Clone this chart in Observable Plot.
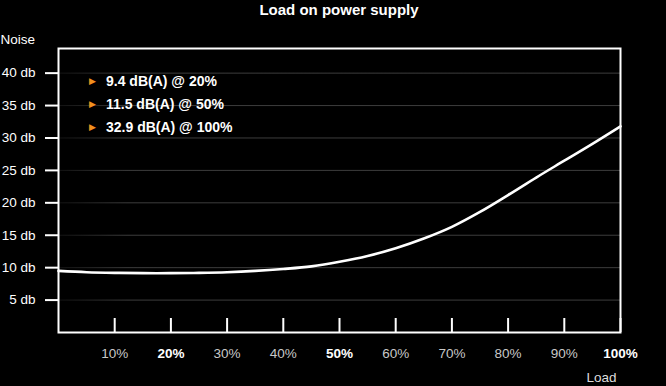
<!DOCTYPE html>
<html><head><meta charset="utf-8">
<script src="https://cdn.jsdelivr.net/npm/d3@7"></script>
<script src="https://cdn.jsdelivr.net/npm/@observablehq/plot@0.6"></script>
<style>
html,body{margin:0;padding:0;background:#000;}
#title{height:22px;line-height:11px;padding-top:1px;width:666px;text-align:center;color:#fff;font:bold 15px "Liberation Sans",Arial,sans-serif;padding-left:12px;box-sizing:border-box;}
</style></head><body>
<div id="title">Load on power supply</div>
<div id="chart"></div>
<script>
const loads = [0,5,10,15,20,25,30,35,40,45,50,55,60,65,70,75,80,85,90,95,100];
const noise = [9.5,9.3,9.2,9.15,9.15,9.2,9.3,9.5,9.8,10.2,10.9,11.8,13.0,14.5,16.3,18.6,21.2,23.9,26.5,29.1,31.8];
const yTicks = [5,10,15,20,25,30,35,40];
const xTicks = [10,20,30,40,50,60,70,80,90,100];
const boldTicks = [20,50,100];
const annotations = ["9.4 dB(A) @ 20%","11.5 dB(A) @ 50%","32.9 dB(A) @ 100%"];

const data = loads.map((l,i)=>({load:l, noise:noise[i]}));
const W=666, H=364, mT=26, mB=54, mL=58, mR=46;
const innerH = H - mT - mB;

function gridDefs(index, scales, values, dims) {
  const ns = "http://www.w3.org/2000/svg";
  const d = document.createElementNS(ns, "defs");
  d.innerHTML = `<linearGradient id="gridfade" gradientUnits="userSpaceOnUse" x1="${dims.marginLeft}" x2="${dims.marginLeft+70}" y1="0" y2="0"><stop offset="0" stop-color="#3c3c3c" stop-opacity="0.3"/><stop offset="1" stop-color="#3c3c3c" stop-opacity="1"/></linearGradient>`;
  return d;
}

const annMarks = [];
annotations.forEach((t,i)=>{
  annMarks.push(Plot.text([t], {text:d=>d, frameAnchor:"top-left", dx:47.5, dy:32.7+i*23.2, textAnchor:"start", lineAnchor:"middle", fill:"#fff", fontWeight:"bold", fontSize:14}));
  annMarks.push(Plot.text(["\u25B6"], {text:d=>d, frameAnchor:"top-left", dx:34, dy:32.2+i*23.2, textAnchor:"middle", lineAnchor:"middle", fill:"#f0901e", fontSize:9, fontFamily:"DejaVu Sans"}));
});

const plot = Plot.plot({
  width: W, height: H, marginTop: mT, marginBottom: mB, marginLeft: mL, marginRight: mR,
  style: {background:"#000", color:"#fff", fontFamily:'"Liberation Sans", Arial, sans-serif', fontSize:"13px"},
  x: {domain:[0,100], axis:null},
  y: {domain:[0,43.8], axis:null},
  marks: [
    gridDefs,
    Plot.ruleY(yTicks, {y:d=>d, stroke:"url(#gridfade)", strokeWidth:1}),
    Plot.line(data, {x:"load", y:"noise", curve:"catmull-rom", stroke:"#fff", strokeWidth:2.6}),
    Plot.frame({stroke:"#fff", strokeWidth:2}),
    Plot.axisY(yTicks, {anchor:"left", tickSize:13, tickPadding:10, tickFormat:d=>`${d} db`, stroke:"#fff", strokeWidth:2, fill:"#fff", fontSize:13.5, label:null}),
    Plot.tickX(xTicks, {x:d=>d, stroke:"#fff", strokeWidth:2, insetTop: innerH-14}),
    Plot.text(xTicks.filter(d=>!boldTicks.includes(d)), {x:d=>d, text:d=>d+"%", frameAnchor:"bottom", dy:21, lineAnchor:"middle", fill:"#c8c8c8", fontSize:13.5}),
    Plot.text(boldTicks, {x:d=>d, text:d=>d+"%", frameAnchor:"bottom", dy:21, lineAnchor:"middle", fill:"#fff", fontWeight:"bold", fontSize:13.5}),
    Plot.text(["Noise"], {text:d=>d, frameAnchor:"top-left", dx:-58, dy:-9, textAnchor:"start", lineAnchor:"middle", fill:"#fff", fontSize:13.5}),
    Plot.text(["Load"], {text:d=>d, frameAnchor:"bottom-right", dx:-4, dy:45, lineAnchor:"middle", fill:"#ddd", fontSize:13.5}),
    ...annMarks
  ]
});
document.getElementById("chart").appendChild(plot);
</script>
</body></html>
